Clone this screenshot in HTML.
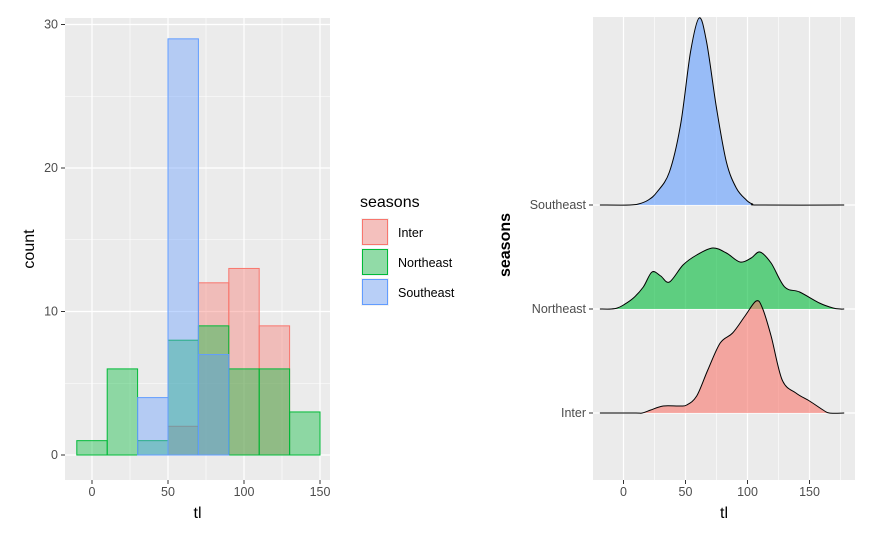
<!DOCTYPE html>
<html><head><meta charset="utf-8"><style>
body{margin:0;background:#fff;}
svg text{font-family:"Liberation Sans",Arial,sans-serif;}
</style></head><body>
<svg id="c" width="875" height="540" xmlns="http://www.w3.org/2000/svg"></svg>
<script>
// ---- histogram data (bins of width 20, centers) ----
const binCenters = [0, 20, 40, 60, 80, 100, 120, 140];
const interCounts = [0, 0, 0, 2, 12, 13, 9, 0];
const northeastCounts = [1, 6, 1, 8, 9, 6, 6, 3];
const southeastCounts = [0, 0, 4, 29, 7, 0, 0, 0];
const countTicks = [0, 10, 20, 30];
const tlTicks = [0, 50, 100, 150];
const seriesNames = ["Inter", "Northeast", "Southeast"];
// ---- ridgeline densities (x, height) ----
const seX = [-19, 5, 12, 20, 27, 37, 46, 54, 61, 67, 75, 83, 91, 99, 104, 110, 178];
const seY = [0, 0, 1, 5, 13, 33, 80, 153, 187, 163, 97, 43, 17, 5, 1, 0, 0];
const neX = [-19, -10, -5, 0, 8, 16, 23, 30, 37, 48, 59, 72, 83, 94, 103, 110, 119, 130, 142, 158, 169, 175, 178];
const neY = [0, 0, 1, 4, 11, 22, 37, 33, 27, 44, 54, 61, 56, 47, 51, 57, 46, 22, 17, 6, 1, 0, 0];
const inX = [-19, 10, 15, 22, 32, 45, 51, 59, 68, 78, 88, 98, 107, 112, 119, 128, 139, 150, 161, 166, 178];
const inY = [0, 0, 0, 3, 7, 7, 8, 17, 43, 70, 80, 97, 112, 105, 77, 33, 20, 12, 3, 0, 0];

const svg = document.getElementById('c');
const NS = 'http://www.w3.org/2000/svg';
function mk(tag, attrs, parent){const e=document.createElementNS(NS,tag);for(const k in attrs)e.setAttribute(k,attrs[k]);(parent||svg).appendChild(e);return e;}
function txt(s,attrs){const e=mk('text',attrs);e.textContent=s;return e;}
function smooth(pts){
  let d='M'+pts[0][0].toFixed(1)+','+pts[0][1].toFixed(1);
  for(let i=0;i<pts.length-1;i++){
    const p0=pts[Math.max(0,i-1)],p1=pts[i],p2=pts[i+1],p3=pts[Math.min(pts.length-1,i+2)];
    let c1y=p1[1]+(p2[1]-p0[1])/6, c2y=p2[1]-(p3[1]-p1[1])/6;
    const lo=Math.max(p1[1],p2[1])+0; 
    const c1x=p1[0]+(p2[0]-p0[0])/6, c2x=p2[0]-(p3[0]-p1[0])/6;
    d+=' C'+c1x.toFixed(1)+','+c1y.toFixed(1)+' '+c2x.toFixed(1)+','+c2y.toFixed(1)+' '+p2[0].toFixed(1)+','+p2[1].toFixed(1);
  }
  return d;
}

// ---------- left panel ----------
const L={x0:65,x1:330,y0:18,y1:480};
const lx=v=>92+(v)*1.52;
const ly=v=>455-v*14.35;
let bg=mk('rect',{x:L.x0,y:L.y0,width:L.x1-L.x0,height:L.y1-L.y0,fill:'#EBEBEB'});

[5,15,25].forEach(v=>mk('line',{x1:L.x0,x2:L.x1,y1:ly(v),y2:ly(v),stroke:'#fff','stroke-width':0.6}));
[25,75,125].forEach(v=>mk('line',{x1:lx(v),x2:lx(v),y1:L.y0,y2:L.y1,stroke:'#fff','stroke-width':0.6}));
countTicks.forEach(v=>{mk('line',{x1:L.x0,x2:L.x1,y1:ly(v),y2:ly(v),stroke:'#fff','stroke-width':1.2});
 mk('line',{x1:L.x0-4,x2:L.x0,y1:ly(v),y2:ly(v),stroke:'#333'});
 let t=txt(v,{x:L.x0-7,y:ly(v)+4,'text-anchor':'end','font-size':12.5,fill:'#4D4D4D'});
 });
tlTicks.forEach(v=>{mk('line',{x1:lx(v),x2:lx(v),y1:L.y0,y2:L.y1,stroke:'#fff','stroke-width':1.2});
 mk('line',{x1:lx(v),x2:lx(v),y1:L.y1,y2:L.y1+4,stroke:'#333'});
 let t=txt(v,{x:lx(v),y:L.y1+16,'text-anchor':'middle','font-size':12.5,fill:'#4D4D4D'});
 });
const histCols=[['#F8766D',interCounts],['#00BA38',northeastCounts],['#619CFF',southeastCounts]];
histCols.forEach(([c,arr],si)=>{arr.forEach((v,i)=>{if(!v)return;
 const r=mk('rect',{x:lx(binCenters[i]-10),y:ly(v),width:lx(binCenters[i]+10)-lx(binCenters[i]-10),height:ly(0)-ly(v),fill:c,'fill-opacity':0.4,stroke:c,'stroke-width':1});
 });});
let t1=txt('tl',{x:(L.x0+L.x1)/2,y:518,'text-anchor':'middle','font-size':16,fill:'#000'});

let t2=txt('count',{x:0,y:0,'text-anchor':'middle','font-size':16,fill:'#000',transform:`translate(34,${(L.y0+L.y1)/2}) rotate(-90)`});


// legend
let lt=txt('seasons',{x:360,y:207,'font-size':16,fill:'#000'});

histCols.forEach(([c],i)=>{const y=218+i*30;
 const g=mk('g',{});
 mk('rect',{x:361,y:y,width:28,height:28,fill:'#F2F2F2'},g);
 mk('rect',{x:362.5,y:y+1.5,width:25,height:25,fill:c,'fill-opacity':0.4,stroke:c},g);
 const tt=mk('text',{x:398,y:y+19,'font-size':12.5,fill:'#000'},g);tt.textContent=seriesNames[i];});

// ---------- right panel ----------
const R={x0:593,x1:855,y0:17,y1:480};
const rx=v=>623.5+v*1.24;
const base={Inter:413,Northeast:309,Southeast:205};
let bg2=mk('rect',{x:R.x0,y:R.y0,width:R.x1-R.x0,height:R.y1-R.y0,fill:'#EBEBEB'});

[-25,25,75,125,175].forEach(v=>mk('line',{x1:rx(v),x2:rx(v),y1:R.y0,y2:R.y1,stroke:'#fff','stroke-width':0.6}));
tlTicks.forEach(v=>{mk('line',{x1:rx(v),x2:rx(v),y1:R.y0,y2:R.y1,stroke:'#fff','stroke-width':1.2});
 mk('line',{x1:rx(v),x2:rx(v),y1:R.y1,y2:R.y1+4,stroke:'#333'});
 let t=txt(v,{x:rx(v),y:R.y1+16,'text-anchor':'middle','font-size':12.5,fill:'#4D4D4D'});
 });
seriesNames.forEach(n=>{const y=base[n];
 mk('line',{x1:R.x0,x2:R.x1,y1:y,y2:y,stroke:'#fff','stroke-width':1.2});
 mk('line',{x1:R.x0-4,x2:R.x0,y1:y,y2:y,stroke:'#333'});
 let t=txt(n,{x:R.x0-7,y:y+4,'text-anchor':'end','font-size':12.5,fill:'#4D4D4D'});
 });
const ridges=[['Southeast',seX,seY,'#619CFF'],['Northeast',neX,neY,'#00BA38'],['Inter',inX,inY,'#F8766D']];
ridges.forEach(([n,xs,ys,c])=>{const b=base[n];
 const pts=xs.map((x,i)=>[rx(x),b-ys[i]]);
 const d=smooth(pts);
 const area=mk('path',{d:d+' Z',fill:c,'fill-opacity':0.6,stroke:'none'});
 
 mk('path',{d:d,fill:'none',stroke:'#000','stroke-width':1,'stroke-linejoin':'round'});});
let t3=txt('tl',{x:(R.x0+R.x1)/2,y:518,'text-anchor':'middle','font-size':16,fill:'#000'});

let t4=txt('seasons',{x:0,y:0,'text-anchor':'middle','font-size':16,fill:'#000','font-weight':'bold',transform:`translate(510,245) rotate(-90)`});

</script>
</body></html>
